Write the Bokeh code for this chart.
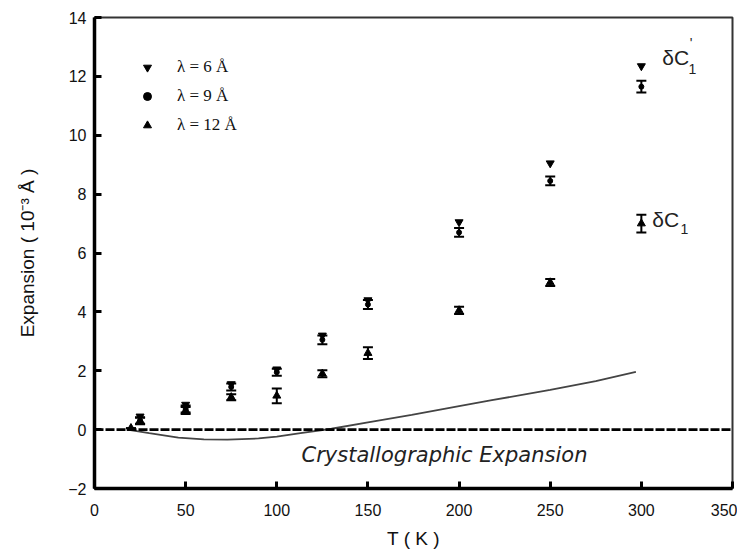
from bokeh.plotting import figure
from bokeh.models import (ColumnDataSource, Whisker, TeeHead, Label, Legend,
                          LegendItem, Span)
from bokeh.embed import file_html
from bokeh.resources import INLINE

# ---- data ----
T_up = [25, 50, 75, 100, 125, 150, 200, 250, 300]
lam6 = [0.45, 0.85, 1.55, 2.05, 3.2, 4.4, 7.05, 9.05, 12.35]
lam9 = [0.3, 0.7, 1.45, 1.95, 3.05, 4.25, 6.7, 8.45, 11.65]
err9 = [0.12, 0.12, 0.12, 0.12, 0.15, 0.15, 0.15, 0.15, 0.2]

T_lo = [20, 25, 50, 75, 100, 125, 150, 200, 250, 300]
lam12 = [0.05, 0.3, 0.65, 1.1, 1.15, 1.9, 2.6, 4.05, 5.0, 7.0]
err12 = [0.0, 0.1, 0.12, 0.1, 0.25, 0.12, 0.2, 0.12, 0.12, 0.3]

curve_T = [18, 30, 46, 60, 73, 90, 100, 113, 130, 150, 174, 200, 218, 250, 275, 297]
curve_v = [0.0, -0.12, -0.27, -0.33, -0.34, -0.3, -0.24, -0.12, 0.03, 0.25,
           0.5, 0.8, 1.0, 1.35, 1.65, 1.96]

xticks = [0, 50, 100, 150, 200, 250, 300, 350]
yticks = [-2, 0, 2, 4, 6, 8, 10, 12, 14]

legend_labels = ["λ = 6 Å", "λ = 9 Å", "λ = 12 Å"]

SANS = "Liberation Sans"
SERIF = "Liberation Serif"

p = figure(width=737, height=551, x_range=(0, 350), y_range=(-2, 14),
           output_backend="svg", toolbar_location=None,
           min_border_left=94, min_border_right=5, min_border_top=17,
           min_border_bottom=60)

p.xgrid.visible = False
p.ygrid.visible = False
p.outline_line_color = "#333333"
p.outline_line_width = 2
p.background_fill_color = "white"
p.border_fill_color = "white"

for ax in (p.xaxis[0], p.yaxis[0]):
    ax.axis_line_width = 3.5
    ax.axis_line_color = "black"
    ax.major_tick_in = 7
    ax.major_tick_out = 0
    ax.major_tick_line_width = 3
    ax.major_tick_line_color = "black"
    ax.minor_tick_line_color = None
    ax.major_label_text_font = SANS
    ax.major_label_text_font_size = "16px"
    ax.major_label_text_color = "#111111"
    ax.axis_label_text_font = SANS
    ax.axis_label_text_font_size = "19px"
    ax.axis_label_text_font_style = "normal"
    ax.axis_label_text_color = "#111111"

p.xaxis.ticker = xticks
p.yaxis.ticker = yticks
p.xaxis.axis_label = "T ( K )"
p.yaxis.axis_label = "Expansion ( 10⁻³ Å )"
p.xaxis.major_label_standoff = 15
p.yaxis.major_label_standoff = 8
p.xaxis.axis_label_standoff = 9
p.yaxis.axis_label_standoff = 27

# zero reference line
p.add_layout(Span(location=0, dimension="width", line_color="black",
                  line_width=2.8, line_dash="9 2"))

# crystallographic expansion curve
p.line(curve_T, curve_v, line_color="#444444", line_width=1.8)

# error bars
src9 = ColumnDataSource(dict(x=T_up, y=lam9,
                             up=[v + e for v, e in zip(lam9, err9)],
                             lo=[v - e for v, e in zip(lam9, err9)]))
src12 = ColumnDataSource(dict(x=T_lo, y=lam12,
                              up=[v + e for v, e in zip(lam12, err12)],
                              lo=[v - e for v, e in zip(lam12, err12)]))
for s in (src9, src12):
    p.add_layout(Whisker(base="x", upper="up", lower="lo", source=s,
                         line_color="black", line_width=2,
                         upper_head=TeeHead(size=10, line_width=2, line_color="black"),
                         lower_head=TeeHead(size=10, line_width=2, line_color="black")))

r6 = p.scatter(T_up, lam6, marker="inverted_triangle", size=8,
               color="black")
r9 = p.scatter("x", "y", source=src9, marker="circle", size=5, color="black")
r12 = p.scatter("x", "y", source=src12, marker="triangle", size=8,
                color="black")

legend = Legend(items=[LegendItem(label=legend_labels[0], renderers=[r6]),
                       LegendItem(label=legend_labels[1], renderers=[r9]),
                       LegendItem(label=legend_labels[2], renderers=[r12])],
                location=(43, 353), border_line_color=None,
                background_fill_alpha=0, padding=0, margin=0, spacing=9,
                glyph_height=20, glyph_width=20, label_height=20,
                label_standoff=20, label_text_font=SERIF,
                label_text_font_size="17px", label_text_color="#111111")
p.add_layout(legend, "center")

# annotations
def lab(x, y, text, size, style="normal", align="left", baseline="middle",
        font=SANS):
    p.add_layout(Label(x=x, y=y, text=text, text_font=font,
                       text_font_size=size, text_font_style=style,
                       text_align=align, text_baseline=baseline,
                       text_color="#222222"))

lab(311.5, 12.65, "δC", "21px")
lab(325.8, 12.25, "1", "14px")
lab(326.5, 13.15, "'", "14px")
lab(306, 7.15, "δC", "21px")
lab(321.5, 6.8, "1", "14px")
lab(192, -0.85, "Crystallographic Expansion", "21px", style="italic",
    align="center", font="DejaVu Sans")

open("out.html", "w").write(file_html(p, INLINE))
